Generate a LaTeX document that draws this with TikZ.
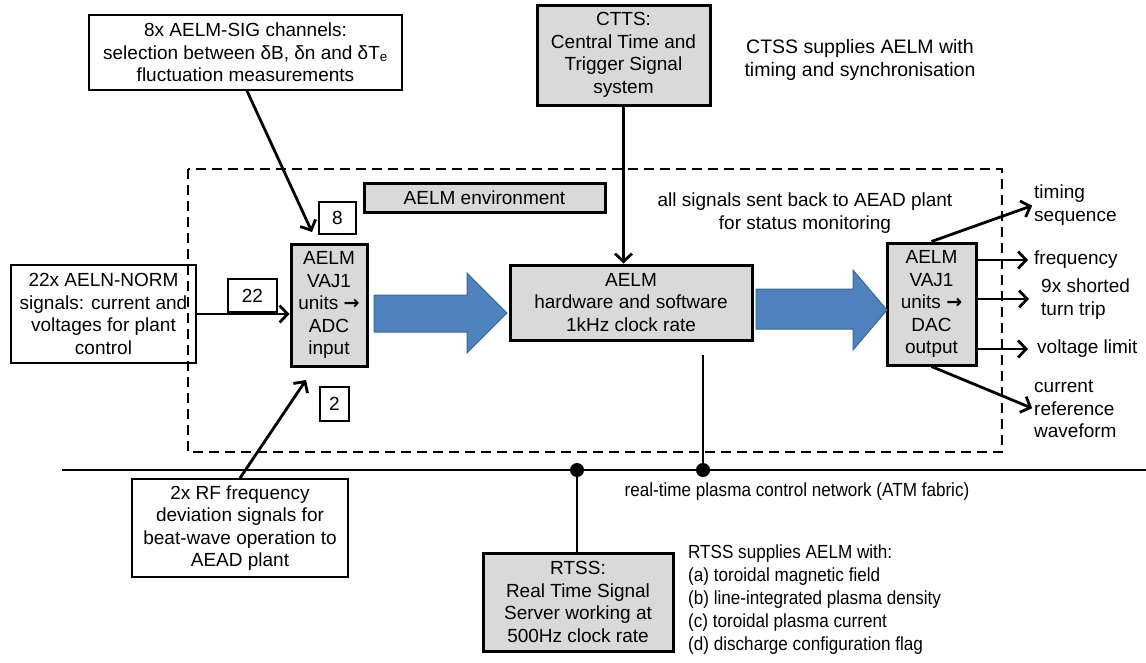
\documentclass[tikz,border=0pt]{standalone}
\usepackage{fontspec}
\setmainfont{Liberation Sans}
\newfontfamily\dingfont{DejaVu Sans}
\newfontfamily\narrowfont[FakeStretch=0.9]{Liberation Sans}
\usetikzlibrary{arrows.meta,positioning,calc}

\definecolor{boxgray}{HTML}{D9D9D9}
\definecolor{blockblue}{HTML}{4F81BD}
\definecolor{blockedge}{HTML}{3A679C}

\newcommand{\unitarrow}{{\dingfont\bfseries\fontsize{19}{19}\selectfont →}}

\begin{document}
\begin{tikzpicture}[x=1pt,y=-1pt,font=\fontsize{19}{22.5}\selectfont]
\tikzset{graybox/.style={draw,line width=3pt,fill=boxgray,align=center,inner sep=0pt}}
\tikzset{labelbox/.style={draw,line width=1.8pt,align=center,inner sep=0pt}}
\tikzset{numbox/.style={draw,line width=1.5pt,inner sep=0pt}}
\tikzset{conn/.style={line width=2.8pt}}
\tikzset{arr/.style={conn,-{Straight Barb[length=8pt,width=17pt]}}}
\tikzset{blockarrow/.style={fill=blockblue,draw=blockedge,line width=1pt}}
\tikzset{note/.style={inner sep=0pt}}
\useasboundingbox (0,0) rectangle (1146,662);

% AELM environment frame
\draw[line width=2.8pt,dash pattern=on 10pt off 6pt] (188,169) rectangle (1002,452);

% boxes
\node[labelbox,minimum width=313,minimum height=75] (sig) at (245.5,52.5)
  {8x AELM-SIG channels:\\selection between δB, δn and δT\textsubscript{e}\\fluctuation measurements};
\node[graybox,minimum width=173,minimum height=100] (ctts) at (623.5,55)
  {CTTS:\\Central Time and\\Trigger Signal\\system};
\node[labelbox,minimum width=185,minimum height=98] (norm) at (103.5,314)
  {22x AELN-NORM\\signals: current and\\voltages for plant\\control};
\node[labelbox,minimum width=216,minimum height=98] (rf) at (240,528)
  {2x RF frequency\\deviation signals for\\beat-wave operation to\\AEAD plant};
\node[graybox,minimum width=190,minimum height=98] (rtss) at (578,602)
  {RTSS:\\Real Time Signal\\Server working at\\500Hz clock rate};
\node[graybox,minimum width=241,minimum height=29] (env) at (484.5,197.5) {AELM environment};
\node[graybox,minimum width=76,minimum height=122] (adc) at (329,305)
  {AELM\\VAJ1\\units \unitarrow\\ADC\\input};
\node[graybox,minimum width=242,minimum height=75] (hw) at (631,302.5)
  {AELM\\hardware and software\\1kHz clock rate};
\node[graybox,minimum width=89,minimum height=122] (dac) at (931.5,304)
  {AELM\\VAJ1\\units \unitarrow\\DAC\\output};
\node[numbox,minimum width=37,minimum height=32] (n8) at (337.5,218) {8};
\node[numbox,minimum width=49,minimum height=33] (n22) at (252.5,295.5) {22};
\node[numbox,minimum width=29,minimum height=34] (n2) at (334.5,404) {2};

% block arrows
\draw[blockarrow] (374,295) -- (467,295) -- (467,273) -- (507,313) -- (467,353) -- (467,332) -- (374,332) -- cycle;
\draw[blockarrow] (756,289) -- (853,289) -- (853,270) -- (887,310) -- (853,350) -- (853,329) -- (756,329) -- cycle;

% notes
\node[note,align=center,font=\fontsize{19.5}{23.5}\selectfont] (ctssnote) at (860,60) {CTSS supplies AELM with\\timing and synchronisation};
\node[note,align=center] (status) at (805,213) {all signals sent back to AEAD plant\\for status monitoring};
\node[note,align=left,anchor=west] (timing) at (1034,205) {timing\\sequence};
\node[note,anchor=west] (freq) at (1034,260) {frequency};
\node[note,align=left,anchor=west] (shorted) at (1041,299) {9x shorted\\turn trip};
\node[note,anchor=west] (volt) at (1037,349) {voltage limit};
\node[note,align=left,anchor=west] (curref) at (1034,409) {current\\reference\\waveform};
\node[note,font=\narrowfont\fontsize{19}{22.5}\selectfont] (netlabel) at (797,492)
  {real-time plasma control network (ATM fabric)};
\node[note,align=left,anchor=north west,font=\narrowfont\fontsize{19}{22.8}\selectfont] (rtssnote) at (688,545)
  {RTSS supplies AELM with:\\(a) toroidal magnetic field\\(b) line-integrated plasma density\\(c) toroidal plasma current\\(d) discharge configuration flag};

% network
\coordinate (netL) at (62,470);
\coordinate (netR) at (1146,470);
\coordinate (tapA) at (577,470);
\coordinate (tapB) at (703,470);
\coordinate (hwtap) at (703,355);
\draw[conn] (netL) -- (netR);
\draw[conn] (tapA) -- (tapA |- rtss.north);
\draw[conn] (hwtap) -- (tapB);
\fill (tapA) circle (7);
\fill (tapB) circle (7);

% signal connectors
\coordinate (sigtip) at (312,232);
\coordinate (rftip) at (306,380);
\draw[arr] ([xshift=1.5]sig.south) -- (sigtip);
\draw[arr] (norm.east) -- (norm.east -| adc.west);
\draw[arr] (rf.north) -- (rftip);
\draw[arr] (ctts.south) -- (ctts.south |- hw.north);
\draw[arr,shorten >=2pt] (dac.north) -- (timing.west);
\draw[arr] (dac.east |- freq.west) -- ([xshift=-6]freq.west);
\draw[arr] (dac.east |- shorted.west) -- ([xshift=-12]shorted.west);
\draw[arr] (dac.east |- volt.west) -- ([xshift=-9]volt.west);
\draw[arr,shorten >=2pt] (dac.south) -- (curref.west);
\end{tikzpicture}
\end{document}
